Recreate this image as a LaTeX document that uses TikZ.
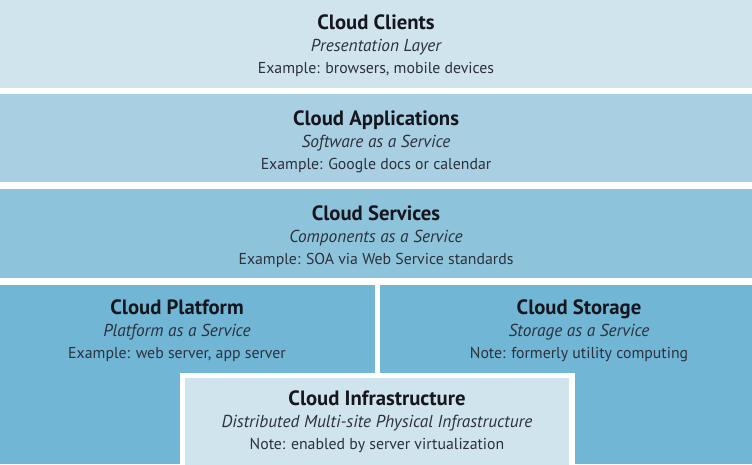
\documentclass[tikz,border=0pt]{standalone}
\usepackage{fontspec}
\setmainfont{PT Sans}
\usepackage{xcolor}
\usepackage{tikz}
\usetikzlibrary{positioning,calc}
\definecolor{cloudpale}{HTML}{D0E4EE}
\definecolor{cloudsoft}{HTML}{A9CFE2}
\definecolor{cloudmid}{HTML}{8EC4DB}
\definecolor{clouddeep}{HTML}{72B6D6}
\definecolor{cloudink}{HTML}{16161E}
\definecolor{cloudgray}{HTML}{2C313C}
\newcommand{\layertitle}[1]{{\fontsize{20.7}{22}\selectfont\bfseries\color{cloudink}#1}}
\newcommand{\layerkind}[1]{{\fontsize{17.3}{22}\selectfont\itshape #1}}

\begin{document}
\begin{tikzpicture}[
    x=1pt,y=1pt,
    layer/.style = {rectangle,inner sep=0pt,outer sep=0pt,anchor=north west},
    txt/.style   = {align=center,inner sep=0pt,text=cloudgray,
                    font=\fontsize{15.8}{22}\selectfont},
  ]
  \useasboundingbox (0,0) rectangle (752,464);
  \fill[white] (0,0) rectangle (752,464);

  \node[layer,fill=cloudpale,minimum width=752,minimum height=88] (clients) at (0,464) {};
  \node[layer,fill=cloudsoft,minimum width=752,minimum height=88] (apps) at (0,370) {};
  \node[layer,fill=cloudmid,minimum width=752,minimum height=89] (services) at (0,275) {};
  \node[layer,fill=clouddeep,minimum width=375,minimum height=179] (platform) at (0,179) {};
  \node[layer,fill=clouddeep,minimum width=372,minimum height=179] (storage) at (380,179) {};
  \node[layer,fill=cloudpale,draw=white,line width=5.5pt,
        minimum width=389.5,minimum height=100] (infra) at (182.5,88.5) {};

  \node[txt] (clientstxt) at (376,418)
    {\layertitle{Cloud Clients}\\\layerkind{Presentation Layer}\\Example: browsers, mobile devices};
  \node[txt] (appstxt) at (376,322)
    {\layertitle{Cloud Applications}\\\layerkind{Software as a Service}\\Example: Google docs or calendar};
  \node[txt] (servicestxt) at (376,227)
    {\layertitle{Cloud Services}\\\layerkind{Components as a Service}\\Example: SOA via Web Service standards};
  \node[txt] (platformtxt) at (177,133)
    {\layertitle{Cloud Platform}\\\layerkind{Platform as a Service}\\Example: web server, app server};
  \node[txt] (storagetxt) at (579,133)
    {\layertitle{Cloud Storage}\\\layerkind{Storage as a Service}\\Note: formerly utility computing};
  \node[txt] (infratxt) at (377,42)
    {\layertitle{Cloud Infrastructure}\\\layerkind{Distributed Multi-site Physical Infrastructure}\\Note: enabled by server virtualization};

\end{tikzpicture}
\end{document}
